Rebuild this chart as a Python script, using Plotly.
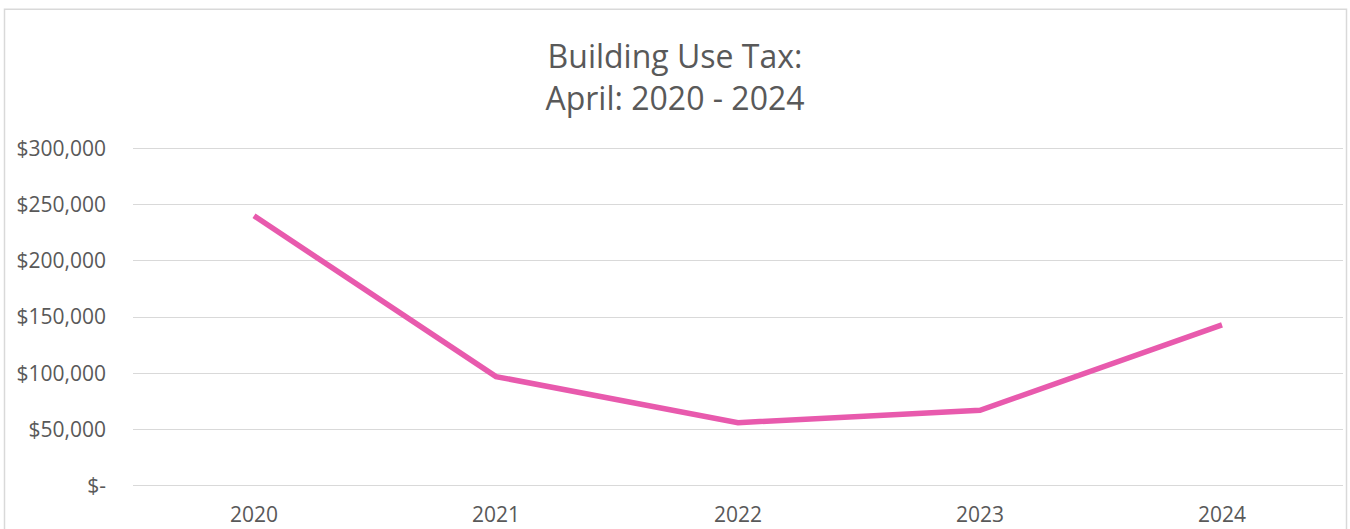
import plotly.graph_objects as go

years = ["2020", "2021", "2022", "2023", "2024"]
tax = [240000, 97000, 56000, 67000, 143000]
tick_vals = [0, 50000, 100000, 150000, 200000, 250000, 300000]
tick_text = ["$-", "$50,000", "$100,000", "$150,000", "$200,000", "$250,000", "$300,000"]

fig = go.Figure()
fig.add_trace(go.Scatter(
    x=years, y=tax, mode="lines",
    line=dict(color="#E85AAD", width=5.5),
    showlegend=False, hoverinfo="x+y",
))

W, H = 1350, 529
# data range padded so that gridlines at 0 and 300k are drawn
pad = 3000
ymin, ymax = -pad, 300000 + pad
px_per = 338 / 300000.0
top_px = 148 - pad * px_per
bot_px = 486 + pad * px_per
L, R = 133, 7
T, B = top_px, H - bot_px
pw, ph = W - L - R, bot_px - top_px

def px_x(p):
    return (p - L) / pw

def px_y(p):
    return (bot_px - p) / ph

fig.add_shape(type="rect", xref="paper", yref="paper",
              x0=px_x(4.5), x1=px_x(1346.5), y0=px_y(560), y1=px_y(8.5),
              line=dict(color="#D9D9D9", width=1.5), fillcolor="rgba(0,0,0,0)", layer="below")

fig.update_layout(
    width=W, height=H,
    margin=dict(l=L, r=R, t=T, b=B, pad=0, autoexpand=False),
    paper_bgcolor="white", plot_bgcolor="white",
    font=dict(family="Open Sans, Liberation Sans, sans-serif", color="#595959"),
    title=dict(text="Building Use Tax:<br>April: 2020 - 2024",
               x=0.5, xanchor="center", y=1 - 68 / H, yanchor="middle",
               font=dict(size=32, color="#595959")),
    xaxis=dict(type="category", range=[-0.5, 4.5], showgrid=False, zeroline=False,
               showline=False, ticks="", ticklabelstandoff=11, automargin=False,
               tickfont=dict(size=21, color="#595959")),
    yaxis=dict(range=[ymin, ymax], tickvals=tick_vals, ticktext=tick_text,
               showgrid=True, gridcolor="#D9D9D9", gridwidth=1.3, zeroline=False,
               showline=False, ticks="", ticklabelstandoff=26, automargin=False,
               tickfont=dict(size=21, color="#595959")),
)

fig.write_html("out.html", config={"displayModeBar": False},
               post_script="document.body.style.margin='0';")
